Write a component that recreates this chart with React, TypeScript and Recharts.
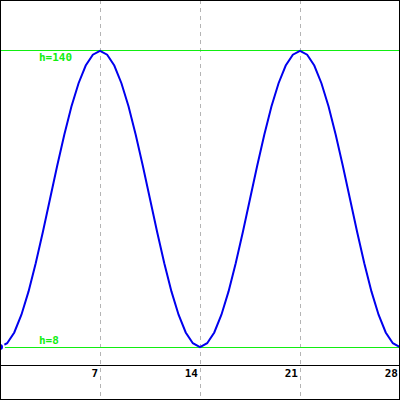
import { LineChart, Line, XAxis, YAxis, CartesianGrid, ReferenceLine } from "recharts";

const days = [
  0, 0.5, 1, 1.5, 2, 2.5, 3, 3.5, 4, 4.5, 5, 5.5, 6, 6.5, 7, 7.5, 8, 8.5, 9,
  9.5, 10, 10.5, 11, 11.5, 12, 12.5, 13, 13.5, 14, 14.5, 15, 15.5, 16, 16.5,
  17, 17.5, 18, 18.5, 19, 19.5, 20, 20.5, 21, 21.5, 22, 22.5, 23, 23.5, 24,
  24.5, 25, 25.5, 26, 26.5, 27, 27.5, 28,
];
const heights = [
  8, 9.7, 14.5, 22.4, 32.8, 45.4, 59.3, 74, 88.7, 102.6, 115.2, 125.6, 133.5,
  138.3, 140, 138.3, 133.5, 125.6, 115.2, 102.6, 88.7, 74, 59.3, 45.4, 32.8,
  22.4, 14.5, 9.7, 8, 9.7, 14.5, 22.4, 32.8, 45.4, 59.3, 74, 88.7, 102.6, 115.2,
  125.6, 133.5, 138.3, 140, 138.3, 133.5, 125.6, 115.2, 102.6, 88.7, 74, 59.3,
  45.4, 32.8, 22.4, 14.5, 9.7, 8,
];
const xTicks = [7, 14, 21, 28];
const highMark = 140;
const lowMark = 8;

const data = days.map((d, i) => ({ day: d, h: heights[i] }));

const MONO = "'DejaVu Sans Mono', monospace";
const GREEN = "#11ee11";
const GRID = "#b4b4b4";

// tick label plus the part of the grid line that runs below the axis
const DayTick = (props: any) => {
  const { x, y, payload } = props;
  return (
    <g>
      <line
        x1={x}
        x2={x}
        y1={y}
        y2={y + 40}
        stroke={GRID}
        strokeDasharray="4 4"
        strokeDashoffset={5}
        shapeRendering="crispEdges"
      />
      <text
        x={x - 2}
        y={y + 12}
        textAnchor="end"
        fontFamily={MONO}
        fontWeight="bold"
        fontSize={11}
        fill="#000"
      >
        {payload.value}
      </text>
    </g>
  );
};

const markLabel = (text: string, dy: number) => (props: any) => {
  const vb = props.viewBox || {};
  return (
    <text
      x={39}
      y={(vb.y ?? 0) + dy}
      fontFamily={MONO}
      fontWeight="bold"
      fontSize={11}
      fill={GREEN}
    >
      {text}
    </text>
  );
};

export default function App() {
  return (
    <div
      style={{
        position: "absolute",
        left: 0,
        top: 0,
        width: 400,
        height: 400,
        background: "#fff",
      }}
    >
      <LineChart
        width={400}
        height={400}
        data={data}
        margin={{ top: 0, right: 0, bottom: 0, left: 0 }}
      >
        <CartesianGrid
          horizontal={false}
          stroke={GRID}
          strokeDasharray="4 4"
          shapeRendering="crispEdges"
        />
        <XAxis
          dataKey="day"
          type="number"
          domain={[0, 28]}
          ticks={xTicks}
          height={35}
          tickSize={0}
          tickMargin={0}
          tickLine={false}
          axisLine={{ stroke: "#000", strokeWidth: 1, shapeRendering: "crispEdges" }}
          tick={<DayTick />}
          interval={0}
        />
        <YAxis hide domain={[0, 162.7]} allowDataOverflow />
        <ReferenceLine
          y={highMark}
          stroke={GREEN}
          strokeWidth={1}
          shapeRendering="crispEdges"
          label={markLabel(`h=${highMark}`, 10)}
        />
        <ReferenceLine
          y={lowMark}
          stroke={GREEN}
          strokeWidth={1}
          shapeRendering="crispEdges"
          label={markLabel(`h=${lowMark}`, -3)}
        />
        <Line
          type="linear"
          dataKey="h"
          stroke="#0000ee"
          strokeWidth={2}
          dot={false}
          isAnimationActive={false}
        />
      </LineChart>
      <div
        style={{
          position: "absolute",
          inset: 0,
          border: "1px solid #000",
          boxSizing: "border-box",
          pointerEvents: "none",
        }}
      />
    </div>
  );
}
